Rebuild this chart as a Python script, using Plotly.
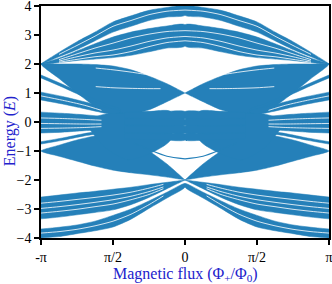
import numpy as np
import plotly.graph_objects as go

PI = np.pi
BLUE = "#2580b9"

# flux grid (units of pi), left half; the right half is the mirror image
S9 = [-1.0, -0.875, -0.75, -0.625, -0.5, -0.375, -0.25, -0.125, 0.0]

# upper family leaving E=2 at -pi
T1_hi = [2.0, 2.40, 2.77, 3.10, 3.45, 3.66, 3.85, 3.95, 4.00]
T1_lo = [2.0, 2.25, 2.50, 2.80, 3.10, 3.30, 3.50, 3.62, 3.68]
T2_hi = [2.0, 2.20, 2.45, 2.70, 2.93, 3.10, 3.22, 3.31, 3.35]
T2_lo = [2.0, 2.05, 2.12, 2.17, 2.22, 2.30, 2.42, 2.55, 2.62]
# lens from E=2 at -pi down to the crossing at E=1, zero flux
M_hi = [2.0, 2.00, 2.00, 1.98, 1.93, 1.80, 1.58, 1.32, 1.00]
M_lo = [2.0, 1.50, 1.00, 0.55, 0.28, 0.25, 0.42, 0.70, 1.00]
# lens from E=-1 at -pi to the crossing at E=-2, zero flux
N_hi = [-1.0, -0.80, -0.62, -0.48, -0.42, -0.60, -1.00, -1.45, -2.00]
N_lo = [-1.0, -1.18, -1.35, -1.52, -1.66, -1.75, -1.82, -1.90, -2.00]
# lower families
B1_hi = [-2.59, -2.52, -2.45, -2.39, -2.32, -2.25, -2.16, -2.08, -2.00]
B1_lo = [-3.34, -3.28, -3.20, -3.12, -3.03, -2.85, -2.60, -2.30, -2.00]
B2_hi = [-3.69, -3.63, -3.55, -3.42, -3.22, -3.00, -2.72, -2.42, -2.12]
B2_lo = [-4.00, -3.95, -3.85, -3.75, -3.62, -3.35, -2.98, -2.62, -2.25]

# bands leaving -pi and running into the central column
S_OUT = [-1.0, -0.85, -0.7, -0.55, -0.45]
L_hi = [1.62, 1.30, 0.95, 0.62, 0.45]
L_lo = [1.52, 1.20, 0.86, 0.54, 0.38]
G_hi = [1.03, 0.88, 0.70, 0.50, 0.38]
G_lo = [0.76, 0.62, 0.46, 0.30, 0.22]
Z_hi = [0.34, 0.30, 0.25, 0.18, 0.12]
Z_lo = [-0.38, -0.35, -0.30, -0.24, -0.18]
Y_hi = [-0.68, -0.55, -0.40, -0.28, -0.22]
Y_lo = [-0.76, -0.63, -0.48, -0.36, -0.30]

# central column
S_K = [-0.70, -0.55, -0.40, -0.25, -0.10]
K_hi = [0.05, 0.28, 0.30, 0.36, 0.36]
K_lo = [0.00, -0.90, -1.30, -1.10, -0.62]

# flat bands around E=0 near zero flux
S_C = [-0.42, -0.30, -0.15, 0.0]
C1_hi = [0.33, 0.35, 0.36, 0.36]
C1_lo = [0.14, 0.13, 0.12, 0.12]
C2_hi = [0.11, 0.10, 0.09, 0.09]
C2_lo = [-0.10, -0.11, -0.12, -0.12]
C3_hi = [-0.13, -0.14, -0.15, -0.15]
C3_lo = [-0.36, -0.37, -0.38, -0.38]
C4_hi = [-0.39, -0.40, -0.41, -0.41]
C4_lo = [-0.58, -0.60, -0.62, -0.62]
# single thin curve below the flat bands
S_ARC = [-0.36, -0.25, -0.125, 0.0]
ARC = [-0.72, -0.95, -1.18, -1.27]

# white gaps between sub-bands
S8 = S9[1:]
T1_gap = [2.33, 2.64, 2.96, 3.30, 3.50, 3.70, 3.82, 3.86]
T2_gap1 = [2.15, 2.35, 2.55, 2.72, 2.90, 3.03, 3.12, 3.15]
T2_gap2 = [2.10, 2.25, 2.38, 2.48, 2.62, 2.78, 2.90, 2.95]
T2_gap3 = [2.06, 2.16, 2.25, 2.31, 2.43, 2.60, 2.74, 2.80]
S_MG = [-0.62, -0.5, -0.375, -0.25, -0.17]
M_gap1 = [1.86, 1.80, 1.72, 1.62, 1.52]
M_gap2 = [1.22, 1.18, 1.16, 1.15, 1.15]
S_BG = [-1.0, -0.875, -0.75, -0.625, -0.5, -0.375, -0.25, -0.15]
B1_gap1 = [-2.80, -2.74, -2.67, -2.60, -2.52, -2.42, -2.28, -2.15]
B1_gap2 = [-2.98, -2.92, -2.85, -2.77, -2.68, -2.56, -2.40, -2.24]
B1_gap3 = [-3.14, -3.08, -3.01, -2.92, -2.83, -2.68, -2.50, -2.30]
B2_gap = [-3.83, -3.78, -3.70, -3.58, -3.42, -3.18, -2.85, -2.55]
S_ZG = [-1.0, -0.85, -0.7, -0.58]
Z_gap1 = [0.14, 0.12, 0.09, 0.06]
Z_gap2 = [-0.05, -0.06, -0.07, -0.07]
Z_gap3 = [-0.22, -0.21, -0.19, -0.16]
G_gap = [0.90, 0.75, 0.58, 0.40]

# axis text
X_TICKS = ["-π", "π/2", "0", "π/2", "π"]
Y_TICKS = [-4, -3, -2, -1, 0, 1, 2, 3, 4]
X_TITLE = "Magnetic flux (Φ<sub>+</sub>/Φ<sub>0</sub>)"
Y_TITLE = "Energy (<i>E</i>)"

BANDS = [
    (S9, T1_hi, T1_lo), (S9, T2_hi, T2_lo),
    (S9, M_hi, M_lo), (S9, N_hi, N_lo),
    (S9, B1_hi, B1_lo), (S9, B2_hi, B2_lo),
    (S_OUT, L_hi, L_lo), (S_OUT, G_hi, G_lo), (S_OUT, Z_hi, Z_lo), (S_OUT, Y_hi, Y_lo),
    (S_K, K_hi, K_lo),
    (S_C, C1_hi, C1_lo), (S_C, C2_hi, C2_lo), (S_C, C3_hi, C3_lo), (S_C, C4_hi, C4_lo),
]
GAPS = [
    (S8, T1_gap), (S8, T2_gap1), (S8, T2_gap2), (S8, T2_gap3),
    (S_MG, M_gap1), (S_MG, M_gap2),
    (S_BG, B1_gap1), (S_BG, B1_gap2), (S_BG, B1_gap3), (S_BG, B2_gap),
    (S_ZG, Z_gap1), (S_ZG, Z_gap2), (S_ZG, Z_gap3), (S_ZG, G_gap),
]

fig = go.Figure()
for s, hi, lo in BANDS:
    for sign in (1, -1):
        xs = [sign * v * PI for v in s] + [sign * v * PI for v in s[::-1]]
        ys = list(hi) + list(lo[::-1])
        fig.add_trace(go.Scatter(
            x=xs, y=ys, mode="lines", fill="toself", fillcolor=BLUE,
            line=dict(color=BLUE, width=0.5, shape="spline", smoothing=0.7),
            hoverinfo="skip", showlegend=False))
for sign in (1, -1):
    fig.add_trace(go.Scatter(
        x=[sign * v * PI for v in S_ARC], y=ARC, mode="lines",
        line=dict(color=BLUE, width=1.2, shape="spline", smoothing=0.7),
        hoverinfo="skip", showlegend=False))
for s, g in GAPS:
    for sign in (1, -1):
        fig.add_trace(go.Scatter(
            x=[sign * v * PI for v in s], y=g, mode="lines",
            line=dict(color="white", width=0.8, shape="spline", smoothing=0.7),
            hoverinfo="skip", showlegend=False))

serif = "Liberation Serif, Times New Roman, serif"
title_font = dict(family=serif, size=16, color="#2222cc")
axis_common = dict(
    showline=True, linecolor="black", linewidth=1.5, mirror=True,
    ticks="outside", ticklen=5, tickwidth=1.5, tickcolor="black",
    showgrid=False, zeroline=False, automargin=False,
    ticklabeloverflow="allow",
    tickfont=dict(family=serif, size=14, color="black"),
)
fig.update_layout(
    width=332, height=284,
    margin=dict(l=41, r=3, t=6, b=46),
    paper_bgcolor="white", plot_bgcolor="white",
    xaxis=dict(range=[-PI, PI],
               tickvals=[-PI, -PI / 2, 0, PI / 2, PI],
               ticktext=X_TICKS, **axis_common),
    yaxis=dict(range=[-4, 4], tickvals=Y_TICKS, **axis_common),
    annotations=[
        dict(text=X_TITLE, xref="paper", yref="paper", x=0.5, y=-0.158,
             xanchor="center", yanchor="middle", showarrow=False, font=title_font),
        dict(text=Y_TITLE, xref="paper", yref="paper", x=-0.108, y=0.46,
             xanchor="center", yanchor="middle", showarrow=False,
             textangle=-90, font=title_font),
    ],
)
fig.write_html("out.html", config={"displayModeBar": False},
               post_script="document.body.style.margin='0';")
